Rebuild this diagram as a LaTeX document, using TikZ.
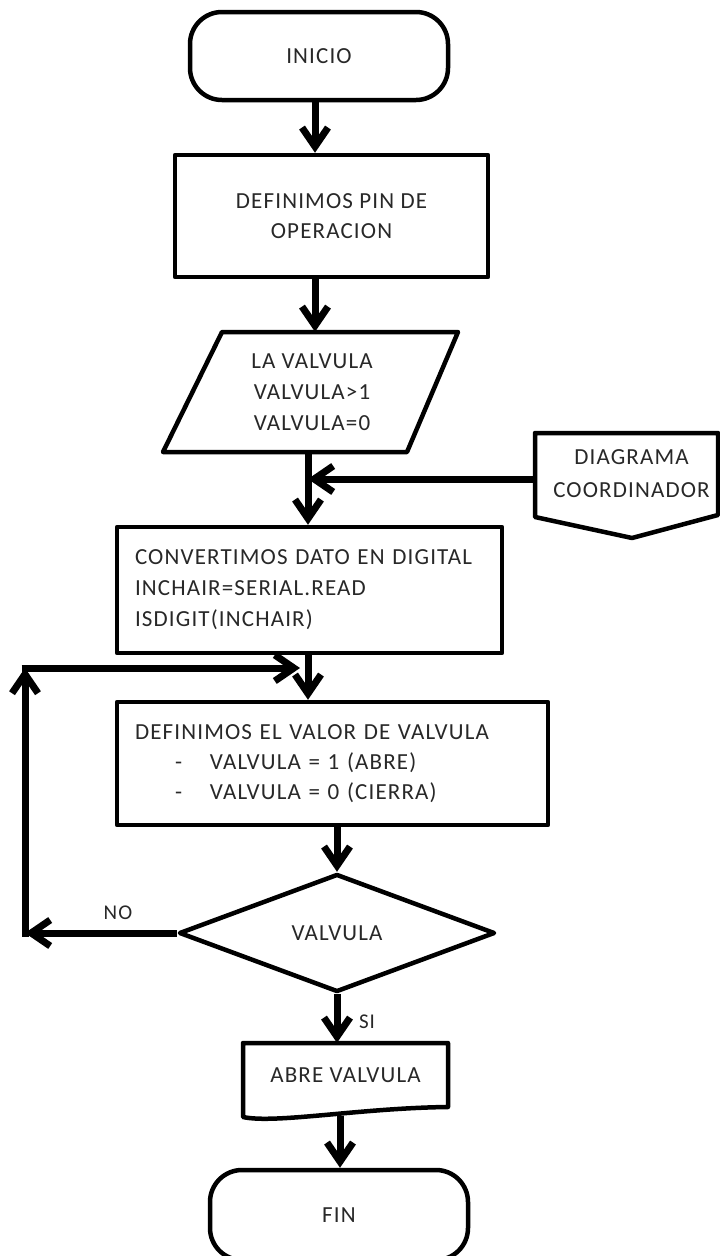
\documentclass[tikz,border=0pt]{standalone}
\usepackage{fontspec}
\setmainfont{Carlito}[LetterSpace=5]
\usetikzlibrary{arrows.meta,shapes.geometric,calc}
\definecolor{tinta}{RGB}{40,40,40}
\tikzset{
  borde/.style={draw=black, line width=4.5pt, fill=white, line join=round},
  letra/.style={text=tinta, font=\fontsize{23}{30}\selectfont},
  caja/.style={borde, letra, rectangle, inner sep=0pt, align=center},
  terminal/.style={caja, rounded corners=32pt},
  rotulo/.style={letra, inner sep=0pt, align=center},
  flecha/.style={line width=7pt, -{Straight Barb[length=19pt,width=26pt]}},
  etiqueta/.style={text=tinta, font=\fontsize{21}{24}\selectfont, inner sep=0pt}
}
\begin{document}
\begin{tikzpicture}[x=1pt,y=-1pt]
\fill[white] (0,0) rectangle (720,1256);
\useasboundingbox (0,0) rectangle (720,1256);

% columns used by the vertical connectors
\coordinate (c1) at (315,0);
\coordinate (c2) at (308,0);
\coordinate (c3) at (337,0);
\coordinate (c4) at (340,0);

% start
\node[terminal, minimum width=258pt, minimum height=88pt] (inicio) at (319,56) {INICIO};

% pin definition
\node[caja, minimum width=313pt, minimum height=122pt] (pin) at (331.5,216)
  {DEFINIMOS PIN DE\\OPERACION};

% input (parallelogram)
\draw[borde] (163,452) -- (222,332) -- (458,332) -- (407,452) -- cycle;
\node[rotulo, minimum width=240pt, minimum height=120pt, font=\fontsize{23}{31}\selectfont] (entrada) at (312,392)
  {LA VALVULA\\VALVULA>1\\VALVULA=0};

% off-page connector
\draw[borde] (535,433) -- (718,433) -- (718,515) -- (632,538) -- (535,517) -- cycle;
\node[rotulo, minimum width=183pt, minimum height=82pt, font=\fontsize{23}{33}\selectfont] (coord) at (626.5,474)
  {\hspace*{10pt}DIAGRAMA\\\hspace*{10pt}COORDINADOR};

% conversion
\node[caja, minimum width=385pt, minimum height=126pt, text width=349pt, align=left,
      font=\fontsize{23}{31}\selectfont] (convierte) at (309.5,590)
  {CONVERTIMOS DATO EN DIGITAL\\INCHAIR=SERIAL.READ\\ISDIGIT(INCHAIR)};

% valve value
\node[caja, minimum width=431pt, minimum height=123pt, text width=395pt, align=left] (valor) at (332.5,763.5)
  {DEFINIMOS EL VALOR DE VALVULA\\
   \hspace*{40pt}\makebox[35pt][l]{-}VALVULA = 1 (ABRE)\\
   \hspace*{40pt}\makebox[35pt][l]{-}VALVULA = 0 (CIERRA)};

% decision
\node[borde, letra, diamond, inner sep=0pt, minimum width=316pt, minimum height=118pt] (decision) at (337,933) {VALVULA};

% document
\draw[borde] (243,1043) -- (448,1043) -- (448,1107)
  .. controls (360,1108) and (275,1124) .. (243,1117) -- cycle;
\node[rotulo, minimum width=205pt, minimum height=64pt] (abre) at (345.5,1075) {ABRE VALVULA};

% end
\node[terminal, minimum width=258pt, minimum height=90pt] (fin) at (339,1215) {FIN};

% main flow
\draw[flecha] (inicio.south -| c1) -- (pin.north -| c1);
\draw[flecha] (pin.south -| c1) -- (entrada.north -| c1);
\coordinate (unir) at (entrada.south -| c2);
\draw[flecha] (unir) -- (convierte.north -| c2);
\draw[flecha] (coord.west |- 0,479) -- (c2 |- 0,479);
\draw[flecha] (convierte.south -| c2) -- (valor.north -| c2);
\draw[flecha] (valor.south -| c3) -- (decision.north);
\draw[flecha] (decision.south) -- (abre.north -| c3);
\draw[flecha] ($(abre.south -| c4)+(0,9)$) -- (fin.north -| c4);

% loop back for NO
\coordinate (izq) at (25,668);
\coordinate (llega) at (300,668);
\draw[flecha] (decision.west) -- (decision.west -| izq);
\draw[flecha, shorten <=-3.5pt] (decision.west -| izq) -- (izq);
\draw[flecha, shorten <=-3.5pt] (izq) -- (llega);

% labels
\node[etiqueta] (no) at (118,913) {NO};
\node[etiqueta] (si) at (367,1022) {SI};
\end{tikzpicture}
\end{document}
